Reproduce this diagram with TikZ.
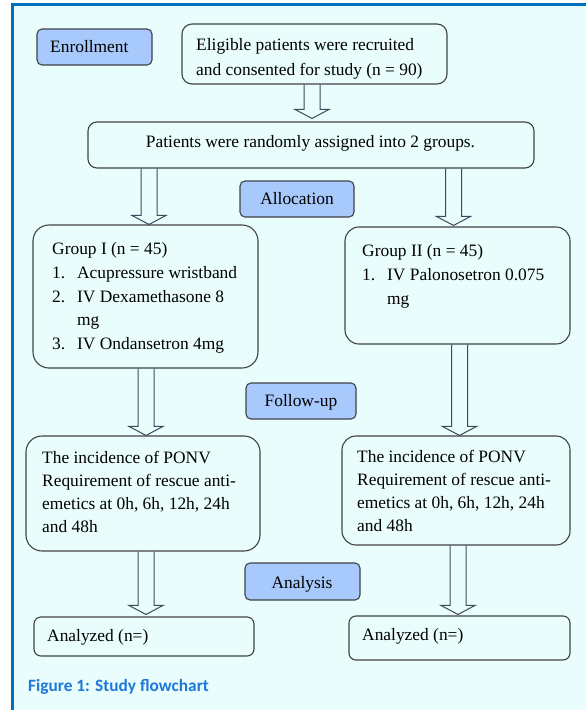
\documentclass[tikz,border=0pt]{standalone}
\usepackage{fontspec}
\setmainfont{Liberation Serif}
\newfontfamily\capfont{Carlito}
\usetikzlibrary{calc,backgrounds}
\definecolor{bgc}{RGB}{234,253,253}
\definecolor{frameblue}{RGB}{0,112,192}
\definecolor{lblfill}{RGB}{168,201,252}
\definecolor{boxline}{RGB}{64,66,70}
\definecolor{arrline}{RGB}{62,72,92}
\definecolor{capblue}{RGB}{30,120,215}
\tikzset{
  bx/.style={draw=boxline, line width=1.1pt, rounded corners=12pt, fill=bgc, inner sep=0pt},
  lbl/.style={draw=boxline, line width=1.1pt, rounded corners=5pt, fill=lblfill, inner sep=0pt},
  txt/.style={inner sep=0pt, align=left, font=\fontsize{17.4}{#1}\selectfont},
  txt/.default=24,
  barr/.style={draw=arrline, line width=1pt, fill=bgc, line join=miter},
}
\newcommand\blockarr[4]{%
  \draw[barr] let \p1=(#2.south), \p2=(#3.north) in
    ({#1-8},\y1) -- ({#1-8},{\y2+#4pt+9pt}) -- ({#1-17},{\y2+#4pt+9pt}) --
    (#1,{\y2+#4pt}) -- ({#1+17},{\y2+#4pt+9pt}) -- ({#1+8},{\y2+#4pt+9pt}) --
    ({#1+8},\y1);}
\begin{document}
\begin{tikzpicture}[x=1pt,y=-1pt]
\useasboundingbox (0,0) rectangle (586,710);
% frame
\begin{scope}[on background layer]
\fill[white] (0,0) rectangle (586,710);
\fill[bgc] (11,3) rectangle (586,710);
\fill[frameblue] (11,3) rectangle (14,710);
\fill[frameblue] (11,3) rectangle (586,6);
\end{scope}

% boxes (shapes)
\path
  (94.5,47)   node[lbl, minimum width=115pt, minimum height=36pt] (enroll) {}
  (314.5,54)  node[bx, rounded corners=10pt, minimum width=265pt, minimum height=60pt] (elig) {}
  (311,145)   node[bx, rounded corners=9pt, minimum width=446pt, minimum height=46pt] (pat) {}
  (297,199)   node[lbl, minimum width=114pt, minimum height=36pt] (alloc) {}
  (145.5,296.5) node[bx, rounded corners=16pt, minimum width=225pt, minimum height=143pt] (g1) {}
  (457.5,285.5) node[bx, rounded corners=14pt, minimum width=225pt, minimum height=117pt] (g2) {}
  (301,401)   node[lbl, minimum width=110pt, minimum height=36pt] (follow) {}
  (143,493.5) node[bx, rounded corners=16pt, minimum width=234pt, minimum height=115pt] (o1) {}
  (456,490.5) node[bx, rounded corners=14pt, minimum width=228pt, minimum height=109pt] (o2) {}
  (302.5,581.5) node[lbl, minimum width=115pt, minimum height=37pt] (analysis) {}
  (144,636.5) node[bx, rounded corners=7pt, minimum width=220pt, minimum height=39pt] (an1) {}
  (459.5,638) node[bx, rounded corners=7pt, minimum width=221pt, minimum height=44pt] (an2) {};

% block arrows (behind the boxes)
\begin{scope}[on background layer]
\blockarr{312}{elig}{pat}{3}
\blockarr{149}{pat}{g1}{0}
\blockarr{453.5}{pat}{g2}{1}
\blockarr{146}{g1}{o1}{0}
\blockarr{459.5}{g2}{o2}{0}
\blockarr{146}{o1}{an1}{2}
\blockarr{458}{o2}{an2}{1}
\end{scope}

% texts (multi-line: base anchor = last line's baseline)
\node[txt, anchor=base west] (enrollT) at (50,52.5) {Enrollment};
\node[txt=25, anchor=base west] (eligT) at (196,75.5) {Eligible patients were recruited\\and consented for study (n = 90)};
\node[txt, anchor=base] (patT) at (310.5,147.5) {Patients were randomly assigned into 2 groups.};
\node[txt, anchor=base] (allocT) at (297,204.5) {Allocation};
\node[txt=23.75, anchor=base west] (g1T) at (52,349.5) {Group I (n = 45)\\
  \makebox[25pt][l]{1.}Acupressure wristband\\
  \makebox[25pt][l]{2.}IV Dexamethasone 8\\
  \hspace*{25pt}mg\\
  \makebox[25pt][l]{3.}IV Ondansetron 4mg};
\node[txt=24, anchor=base west] (g2T) at (362,304.5) {Group II (n = 45)\\
  \makebox[25pt][l]{1.}IV Palonosetron 0.075\\
  \hspace*{25pt}mg};
\node[txt, anchor=base] (followT) at (301,406.5) {Follow-up};
\node[txt=23, anchor=base west] (o1T) at (42,532.5) {The incidence of PONV\\Requirement of rescue anti-\\emetics at 0h, 6h, 12h, 24h\\and 48h};
\node[txt=23, anchor=base west] (o2T) at (357,531.5) {The incidence of PONV\\Requirement of rescue anti-\\emetics at 0h, 6h, 12h, 24h\\and 48h};
\node[txt, anchor=base] (analysisT) at (302,588.5) {Analysis};
\node[txt, anchor=base west] (an1T) at (47,641.5) {Analyzed (n=)};
\node[txt, anchor=base west] (an2T) at (362,640.5) {Analyzed (n=)};
\node[inner sep=0pt, anchor=base west, text=capblue, font=\capfont\fontsize{17.3}{20}\selectfont\bfseries] (cap) at (28,691.5) {Figure 1: Study flowchart};
\end{tikzpicture}
\end{document}
